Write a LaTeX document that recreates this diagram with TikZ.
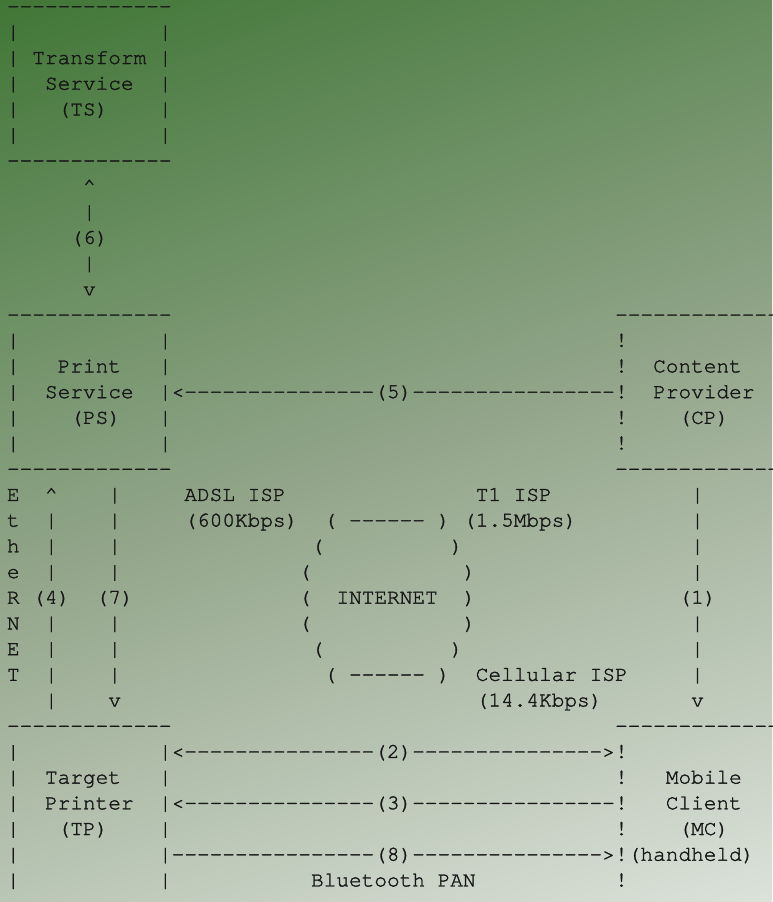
\documentclass[tikz,border=0pt]{standalone}
\usepackage{fontspec}
\setmonofont{texgyrecursor-regular.otf}[FakeBold=1.5]
\definecolor{bgtl}{RGB}{64, 118, 54}
\definecolor{bgmid}{RGB}{146, 165, 138}
\definecolor{bgbr}{RGB}{220, 226, 218}
\definecolor{asciiink}{RGB}{22, 22, 22}
\pgfdeclareverticalshading{bgdiag}{100bp}{color(0bp)=(bgbr); color(18.2bp)=(bgbr);
    color(50bp)=(bgmid); color(81.8bp)=(bgtl); color(100bp)=(bgtl)}
\usetikzlibrary{calc}

\begin{document}
\begin{tikzpicture}[x=12.67pt, y=-25.7pt,
    ascii/.style={font=\fontsize{21.1}{25.7}\selectfont\ttfamily, text=asciiink,
                  anchor=base west, inner sep=0pt, outer sep=0pt}]
    % Background
    \useasboundingbox (-7pt,12.6pt) rectangle (765pt,-889.4pt);
    \shade[shading=bgdiag, shading angle=19]
        (-7pt,12.6pt) rectangle (765pt,-889.4pt);

    % Transform service box
    \node[ascii] (ts-top) at (0,0) {-------------};
    \foreach \r in {1,...,5} {
        \node[ascii] (ts-left-\r) at (0,\r) {|};
        \node[ascii] (ts-right-\r) at (12,\r) {|};
    }
    \node[ascii] (ts-name) at (2,2) {Transform};
    \node[ascii] (ts-kind) at (3,3) {Service};
    \node[ascii] (ts-tag) at (4,4) {(TS)};
    \node[ascii] (ts-bot) at (0,6) {-------------};

    % Link (6)
    \node[ascii] (l6-up) at (6,7) {\textasciicircum};
    \node[ascii] (l6-a) at (6,8) {|};
    \node[ascii] (l6-num) at (5,9) {(6)};
    \node[ascii] (l6-b) at (6,10) {|};
    \node[ascii] (l6-down) at (6,11) {v};

    % Print service box and content provider box
    \node[ascii] (ps-top) at (0,12) {-------------};
    \node[ascii] (cp-top) at (48,12) {-------------};
    \foreach \r in {13,...,17} {
        \node[ascii] (ps-left-\r) at (0,\r) {|};
        \node[ascii] (ps-right-\r) at (12,\r) {|};
        \node[ascii] (cp-left-\r) at (48,\r) {!};
    }
    \node[ascii] (ps-name) at (4,14) {Print};
    \node[ascii] (ps-kind) at (3,15) {Service};
    \node[ascii] (ps-tag) at (5,16) {(PS)};
    \node[ascii] (cp-name) at (51,14) {Content};
    \node[ascii] (cp-kind) at (51,15) {Provider};
    \node[ascii] (cp-tag) at (53,16) {(CP)};
    \node[ascii] (l5) at (13,15) {<---------------(5)----------------};
    \node[ascii] (ps-bot) at (0,18) {-------------};
    \node[ascii] (cp-bot) at (48,18) {-------------};

    % Ethernet links (4) and (7)
    \foreach \ch [count=\i from 19] in {E,t,h,e,R,N,E,T} {
        \node[ascii] (eth-\i) at (0,\i) {\ch};
    }
    \node[ascii] (l4-up) at (3,19) {\textasciicircum};
    \foreach \r in {20,21,22,24,25,26,27}
        \node[ascii] (l4-\r) at (3,\r) {|};
    \node[ascii] (l4-num) at (2,23) {(4)};
    \foreach \r in {19,20,21,22,24,25,26}
        \node[ascii] (l7-\r) at (8,\r) {|};
    \node[ascii] (l7-num) at (7,23) {(7)};
    \node[ascii] (l7-down) at (8,27) {v};

    % Internet cloud and ISPs
    \node[ascii] (adsl) at (14,19) {ADSL ISP};
    \node[ascii] (adsl-rate) at (14,20) {(600Kbps)};
    \node[ascii] (t1) at (37,19) {T1 ISP};
    \node[ascii] (t1-rate) at (36,20) {(1.5Mbps)};
    \node[ascii] (cloud-top) at (25,20) {( ------ )};
    \node[ascii] (cloud-l21) at (24,21) {(};
    \node[ascii] (cloud-r21) at (35,21) {)};
    \foreach \r in {22,23,24} {
        \node[ascii] (cloud-l\r) at (23,\r) {(};
        \node[ascii] (cloud-r\r) at (36,\r) {)};
    }
    \node[ascii] (cloud-l25) at (24,25) {(};
    \node[ascii] (cloud-r25) at (35,25) {)};
    \node[ascii] (internet) at (26,23) {INTERNET};
    \node[ascii] (cloud-bot) at (25,26) {( ------ )};
    \node[ascii] (cell) at (37,26) {Cellular ISP};
    \node[ascii] (cell-rate) at (37,27) {(14.4Kbps)};

    % Link (1)
    \foreach \r in {19,20,21,22,24,25,26}
        \node[ascii] (l1-\r) at (54,\r) {|};
    \node[ascii] (l1-num) at (53,23) {(1)};
    \node[ascii] (l1-down) at (54,27) {v};

    % Target printer box and mobile client box
    \node[ascii] (tp-top) at (0,28) {-------------};
    \node[ascii] (mc-top) at (48,28) {-------------};
    \foreach \r in {29,...,34} {
        \node[ascii] (tp-left-\r) at (0,\r) {|};
        \node[ascii] (tp-right-\r) at (12,\r) {|};
        \node[ascii] (mc-left-\r) at (48,\r) {!};
    }
    \node[ascii] (tp-name) at (3,30) {Target};
    \node[ascii] (tp-kind) at (3,31) {Printer};
    \node[ascii] (tp-tag) at (4,32) {(TP)};
    \node[ascii] (mc-name) at (52,30) {Mobile};
    \node[ascii] (mc-kind) at (52,31) {Client};
    \node[ascii] (mc-tag) at (53,32) {(MC)};
    \node[ascii] (mc-note) at (49,33) {(handheld)};
    \node[ascii] (l2) at (13,29) {<---------------(2)--------------->};
    \node[ascii] (l3) at (13,31) {<---------------(3)----------------};
    \node[ascii] (l8) at (13,33) {----------------(8)--------------->};
    \node[ascii] (pan) at (24,34) {Bluetooth PAN};
\end{tikzpicture}
\end{document}
